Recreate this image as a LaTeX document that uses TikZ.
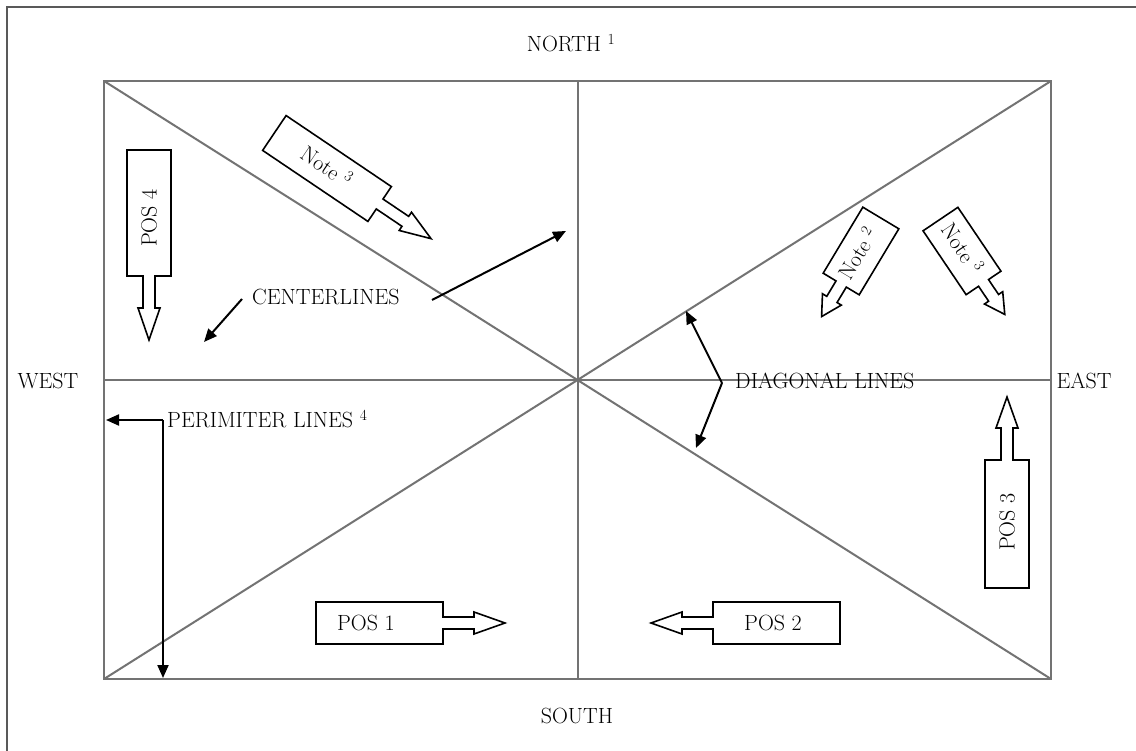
\documentclass[tikz,border=0pt]{standalone}
\usetikzlibrary{arrows.meta}
\newcommand{\blockarr}[6]{%
  \begin{scope}[shift={#1},rotate=#2]
    \draw[blk] (-#3,-#4) -- (#3,-#4) -- (#3,-6) -- ({#3+#5},-6) -- ({#3+#5},-11)
      -- ({#3+#5+#6},0) -- ({#3+#5},11) -- ({#3+#5},6) -- (#3,6) -- (#3,#4)
      -- (-#3,#4) -- cycle;
  \end{scope}}
\begin{document}
\begin{tikzpicture}[x=1pt,y=-1pt,
  grid/.style={draw=black!55, line width=2pt},
  blk/.style={draw=black, line width=1.6pt, fill=white, line join=miter},
  lbl/.style={font=\fontsize{22}{26}\selectfont, inner sep=0pt},
  ptr/.style={draw=black, line width=2pt, -{Triangle[length=13pt,width=11pt]}}]
\useasboundingbox (0,0) rectangle (1136,751);
\clip (0,0) rectangle (1136,751);
\fill[white] (0,0) rectangle (1136,751);
% outer frame (open to the right and bottom)
\draw[draw=black!65, line width=2pt] (7,760) -- (7,7) -- (1145,7);
% field
\coordinate (NW) at (104,81);
\coordinate (NE) at (1051,81);
\coordinate (SW) at (104,679);
\coordinate (SE) at (1051,679);
\coordinate (C) at (577.5,380);
\coordinate (Nm) at (577.5,81);
\coordinate (Sm) at (577.5,679);
\coordinate (Wm) at (104,380);
\coordinate (Em) at (1051,380);
\draw[grid] (NW) -- (SE);
\draw[grid] (NE) -- (SW);
\draw[grid] (Nm) -- (Sm);
\draw[grid] (Wm) -- (Em);
\draw[grid] (NW) rectangle (SE);
% compass labels
\node[lbl] (north) at (571,43) {NORTH \textsuperscript{1}};
\node[lbl] (south) at (577,716) {SOUTH};
\node[lbl] (west) at (48,381) {WEST};
\node[lbl] (east) at (1084,381) {EAST};
% block arrows
\blockarr{(379.5,623)}{0}{63.5}{21}{31}{31}
\blockarr{(776.5,623)}{180}{63.5}{21}{31}{31}
\blockarr{(149,213)}{-90}{63}{22}{32}{32}
\blockarr{(1007,524)}{90}{64}{22}{32}{31}
\blockarr{(327,168.5)}{-34}{63.5}{21}{31}{31}
\blockarr{(861,251)}{239}{38.5}{21}{18}{20}
\blockarr{(962,251)}{-56}{38.5}{21}{18}{20}
\node[lbl] (pos1) at (366,623) {POS 1};
\node[lbl] (pos2) at (773,623) {POS 2};
\node[lbl,rotate=90] (pos4) at (149,218) {POS 4};
\node[lbl,rotate=90] (pos3) at (1007,522) {POS 3};
\node[lbl,rotate=-34] (note3a) at (327,166) {Note \textsuperscript{3}};
\node[lbl,rotate=59] (note2) at (857,253) {Note \textsuperscript{2}};
\node[lbl,rotate=-56] (note3b) at (963,248) {Note \textsuperscript{3}};
% callouts
\node[lbl,anchor=west] (cl) at (252,297) {CENTERLINES};
\coordinate (clA) at (242,299);
\coordinate (clAt) at (204,342);
\coordinate (clB) at (432,300);
\coordinate (clBt) at (566,231);
\draw[ptr] (clA) -- (clAt);
\draw[ptr] (clB) -- (clBt);
\node[lbl,anchor=west] (dl) at (735,381) {DIAGONAL LINES};
\coordinate (dv) at (722,383);
\coordinate (dup) at (686,311);
\coordinate (ddn) at (696,448);
\draw[ptr] (dv) -- (dup);
\draw[ptr] (dv) -- (ddn);
\node[lbl,anchor=west] (pl) at (167,419) {PERIMITER LINES \textsuperscript{4}};
\coordinate (pc) at (163,420);
\coordinate (pw) at (106,420);
\coordinate (ps) at (163,678);
\draw[ptr] (pc) -- (pw);
\draw[ptr] (pc) -- (ps);
\end{tikzpicture}
\end{document}
